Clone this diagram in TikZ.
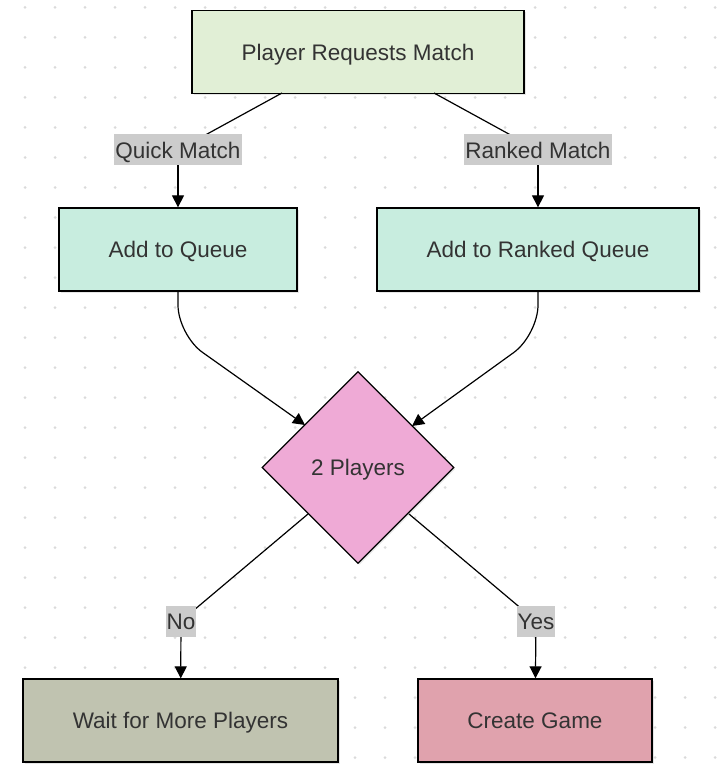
\documentclass[tikz,border=0pt]{standalone}
\usepackage{fontspec}
\setmainfont{Liberation Sans}
\usetikzlibrary{arrows.meta,shapes.geometric,shadows}
\definecolor{txtc}{HTML}{333333}
\definecolor{dotc}{HTML}{DADADA}
\definecolor{lblc}{HTML}{CCCCCC}
\definecolor{reqc}{HTML}{E1EFD6}
\definecolor{queuec}{HTML}{C8EDDF}
\definecolor{decc}{HTML}{EFAAD6}
\definecolor{waitc}{HTML}{C0C3B0}
\definecolor{gamec}{HTML}{E0A2AD}
\begin{document}
\begin{tikzpicture}[x=1pt,y=-1pt,>={Triangle[length=12pt,width=12pt]},line width=1.2pt,
  font=\fontsize{22.5}{27}\selectfont,
  box/.style={draw=black,line width=1.3pt,text=txtc,minimum height=83pt,inner sep=0pt,
    text height=16.1pt,text depth=0pt,
    drop shadow={shadow xshift=1.5pt,shadow yshift=-1.5pt,opacity=.2}},
  lbl/.style={fill=lblc,text=txtc,inner xsep=1pt,inner ysep=0pt,minimum height=31pt,
    text height=16.1pt,text depth=0pt}]
  \useasboundingbox (0,0) rectangle (720,778);
  \foreach \x in {25,55,...,715}
    \foreach \y in {7.5,37.5,...,767.5}
      \fill[dotc] (\x,\y) circle (1.5pt);
  \node[box,fill=reqc,minimum width=332pt] (req) at (358,52) {Player Requests Match};
  \node[box,fill=queuec,minimum width=238pt] (addq) at (178,249.5) {Add to Queue};
  \node[box,fill=queuec,minimum width=322pt] (addrq) at (538,249.5) {Add to Ranked Queue};
  \node[box,fill=decc,shape=diamond,aspect=1,minimum width=192pt,minimum height=192pt] (dec) at (358,467.5) {2 Players};
  \node[box,fill=waitc,minimum width=315pt] (wait) at (180.5,720.5) {Wait for More Players};
  \node[box,fill=gamec,minimum width=234pt] (game) at (535,720.5) {Create Game};
  \coordinate (s1) at (282,93);
  \coordinate (s2) at (434,93);
  \coordinate (k1) at (178,150);
  \coordinate (k2) at (538,150);
  \coordinate (c1) at (178,335);
  \coordinate (c2) at (538,335);
  \coordinate (d1) at (305,425);
  \coordinate (d2) at (412,426);
  \coordinate (e1) at (308,514);
  \coordinate (e2) at (409,514);
  \coordinate (k3) at (181,621);
  \coordinate (k4) at (536,621);
  \draw (s1)--(k1);
  \draw[->] (k1)--(addq);
  \draw (s2)--(k2);
  \draw[->] (k2)--(addrq);
  \draw[->,rounded corners=30pt] (addq)--(c1)--(d1);
  \draw[->,rounded corners=30pt] (addrq)--(c2)--(d2);
  \draw (e1)--(k3);
  \draw[->] (k3)--(wait);
  \draw (e2)--(k4);
  \draw[->] (k4)--(game);
  \node[lbl] (quick) at (k1) {Quick Match};
  \node[lbl] (ranked) at (k2) {Ranked Match};
  \node[lbl] (no) at (k3) {No};
  \node[lbl] (yes) at (k4) {Yes};
\end{tikzpicture}
\end{document}
